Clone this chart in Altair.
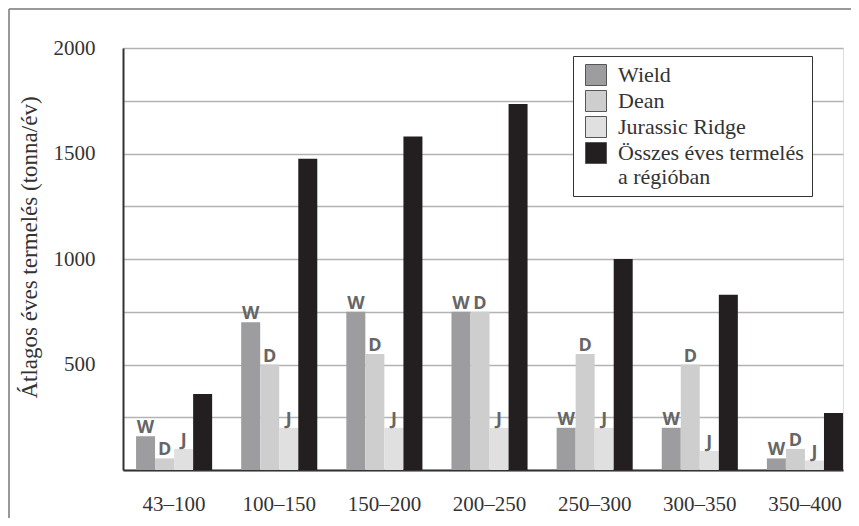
import altair as alt
import pandas as pd

categories = ["43–100", "100–150", "150–200", "200–250", "250–300", "300–350", "350–400"]
wield = [160, 700, 750, 750, 200, 200, 55]
dean = [55, 500, 550, 750, 550, 500, 100]
jurassic = [100, 200, 200, 200, 200, 90, 45]
total = [360, 1475, 1580, 1735, 1000, 830, 270]
series = ["Wield", "Dean", "Jurassic Ridge", "Összes éves termelés|a régióban"]
bar_tags = ["W", "D", "J", ""]
colors = ["#9d9d9f", "#cecece", "#e0e0e0", "#231f20"]
y_ticks = [0, 250, 500, 750, 1000, 1250, 1500, 1750, 2000]

rows = []
for i, c in enumerate(categories):
    for s, vals, tag in zip(series, [wield, dean, jurassic, total], bar_tags):
        rows.append({"cat": c, "series": s, "value": vals[i], "tag": tag})
df = pd.DataFrame(rows)

SERIF = "'Liberation Serif', 'Times New Roman', 'DejaVu Serif', serif"

x_enc = alt.X(
    "cat:N", sort=categories,
    scale=alt.Scale(paddingInner=0.276, paddingOuter=0.062, align=1),
    axis=alt.Axis(title=None, labelAngle=0, labelFont=SERIF, labelFontSize=21,
                  labelColor="#333333", labelPadding=23, ticks=False,
                  domainColor="#333333", domainWidth=2, grid=False),
)
y_enc = alt.Y(
    "value:Q",
    scale=alt.Scale(domain=[0, 2000], nice=False),
    axis=alt.Axis(title="Átlagos éves termelés (tonna/év)", values=y_ticks,
                  labelExpr="datum.value >= 500 && datum.value % 500 == 0 ? datum.label : ''",
                  format="d",
                  labelFont=SERIF, labelFontSize=21, labelColor="#333333",
                  labelPadding=28, ticks=False, domainColor="#333333", domainWidth=2,
                  grid=True, gridColor="#b3b3b3", gridWidth=1.5,
                  titleFont=SERIF, titleFontSize=23, titleFontWeight="normal",
                  titleColor="#333333", titleX=-82, titleY=199),
)
xoff = alt.XOffset("series:N", sort=series, scale=alt.Scale(paddingInner=0, paddingOuter=0))

bars = alt.Chart(df).mark_bar(size=19).encode(
    x=x_enc, y=y_enc, xOffset=xoff,
    color=alt.Color(
        "series:N", sort=series,
        scale=alt.Scale(domain=series, range=colors),
        legend=alt.Legend(
            title=None, orient="none", legendX=450, legendY=8,
            symbolType="square", symbolSize=441, symbolStrokeColor="#555555",
            symbolStrokeWidth=1, symbolOpacity=1, symbolOffset=4,
            labelFont=SERIF, labelFontSize=22, labelColor="#333333",
            labelOffset=11, labelLimit=400, rowPadding=0,
            labelExpr="split(datum.label, '|')",
            strokeColor="#333333", fillColor="white", padding=8,
        ),
    ),
)

tags = alt.Chart(df).mark_text(
    font="'Open Sans', 'DejaVu Sans', sans-serif", fontWeight="bold", fontSize=18, color="#666666",
    baseline="alphabetic", dy=-3,
).encode(x=x_enc, y=y_enc, xOffset=xoff, text="tag:N")

frame_df = pd.DataFrame({"k": [0]})
frame_top = alt.Chart(frame_df).mark_rule(color="#777777", strokeWidth=1.5).encode(
    x=alt.value(-114), x2=alt.value(760), y=alt.value(-39))
frame_left = alt.Chart(frame_df).mark_rule(color="#777777", strokeWidth=1.5).encode(
    x=alt.value(-114), y=alt.value(-39), y2=alt.value(480))

chart = alt.layer(bars, tags, frame_top, frame_left).properties(
    width=720, height=422,
    autosize=alt.AutoSizeParams(type="none"),
    padding={"left": 115, "top": 40, "right": 8, "bottom": 48},
).configure_view(stroke=None).configure(background="white")

chart.save("out.html", embed_options={"renderer": "svg", "actions": False})
